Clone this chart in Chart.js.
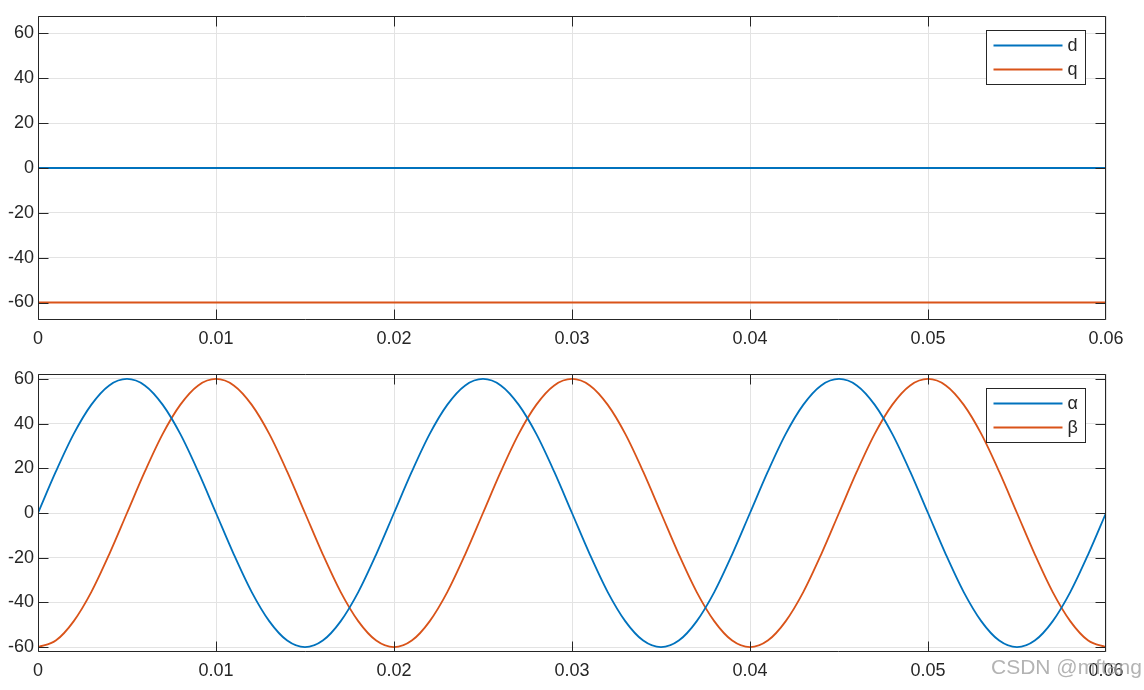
<!DOCTYPE html>
<html>
<head>
<meta charset="utf-8">
<script src="https://cdn.jsdelivr.net/npm/chart.js@4.4.1/dist/chart.umd.min.js"></script>
<style>
  html, body { margin: 0; padding: 0; background: #ffffff; }
  body { width: 1144px; height: 690px; position: relative; overflow: hidden; }
  canvas { position: absolute; left: 0; }
  #c1 { top: 0; }
  #c2 { top: 345px; }
  #wm { position: absolute; left: 991px; top: 655px; font-family: "Liberation Sans", Arial, sans-serif;
        font-size: 21px; color: rgba(160,160,160,0.8); white-space: nowrap; }
</style>
</head>
<body>
<canvas id="c1" width="1144" height="345"></canvas>
<canvas id="c2" width="1144" height="345"></canvas>
<div id="wm">CSDN @mftang</div>
<script>
// ---- data ----
const xTickValues = [0, 0.01, 0.02, 0.03, 0.04, 0.05, 0.06];
const xTickLabels = ["0", "0.01", "0.02", "0.03", "0.04", "0.05", "0.06"];
const yTickValues = [-60, -40, -20, 0, 20, 40, 60];
const yTickLabels = ["-60", "-40", "-20", "0", "20", "40", "60"];

// top subplot: d / q
const tTop = [0, 0.01, 0.02, 0.03, 0.04, 0.05, 0.06];
const dValues = [0, 0, 0, 0, 0, 0, 0];
const qValues = [-60, -60, -60, -60, -60, -60, -60];

// bottom subplot: alpha / beta sampled every 0.001 s
const tBottom = [
  0, 0.001, 0.002, 0.003, 0.004, 0.005, 0.006, 0.007, 0.008, 0.009,
  0.010, 0.011, 0.012, 0.013, 0.014, 0.015, 0.016, 0.017, 0.018, 0.019,
  0.020, 0.021, 0.022, 0.023, 0.024, 0.025, 0.026, 0.027, 0.028, 0.029,
  0.030, 0.031, 0.032, 0.033, 0.034, 0.035, 0.036, 0.037, 0.038, 0.039,
  0.040, 0.041, 0.042, 0.043, 0.044, 0.045, 0.046, 0.047, 0.048, 0.049,
  0.050, 0.051, 0.052, 0.053, 0.054, 0.055, 0.056, 0.057, 0.058, 0.059,
  0.060
];
const alphaValues = [
  0, 18.5, 35.3, 48.5, 57.1, 60, 57.1, 48.5, 35.3, 18.5,
  0, -18.5, -35.3, -48.5, -57.1, -60, -57.1, -48.5, -35.3, -18.5,
  0, 18.5, 35.3, 48.5, 57.1, 60, 57.1, 48.5, 35.3, 18.5,
  0, -18.5, -35.3, -48.5, -57.1, -60, -57.1, -48.5, -35.3, -18.5,
  0, 18.5, 35.3, 48.5, 57.1, 60, 57.1, 48.5, 35.3, 18.5,
  0, -18.5, -35.3, -48.5, -57.1, -60, -57.1, -48.5, -35.3, -18.5,
  0
];
const betaValues = [
  -60, -57.1, -48.5, -35.3, -18.5, 0, 18.5, 35.3, 48.5, 57.1,
  60, 57.1, 48.5, 35.3, 18.5, 0, -18.5, -35.3, -48.5, -57.1,
  -60, -57.1, -48.5, -35.3, -18.5, 0, 18.5, 35.3, 48.5, 57.1,
  60, 57.1, 48.5, 35.3, 18.5, 0, -18.5, -35.3, -48.5, -57.1,
  -60, -57.1, -48.5, -35.3, -18.5, 0, 18.5, 35.3, 48.5, 57.1,
  60, 57.1, 48.5, 35.3, 18.5, 0, -18.5, -35.3, -48.5, -57.1,
  -60
];

const BLUE = "#0072BD";
const ORANGE = "#D95319";
const FONT = "'Liberation Sans', Arial, Helvetica, sans-serif";
const AXIS_COLOR = "#262626";
const FONT_SIZE = 18;

function pts(xs, ys) { return xs.map((x, i) => ({ x: x, y: ys[i] })); }

// frame + inward ticks (MATLAB style box)
const framePlugin = {
  id: "frame",
  afterDatasetsDraw(chart) {
    const { ctx, chartArea: a, scales } = chart;
    const L = Math.round(a.left) + 0.5, R = Math.round(a.right) - 0.5;
    const T = Math.round(a.top) + 0.5, B = Math.round(a.bottom) - 0.5;
    const tl = 10;
    const clamp = (v, lo, hi) => Math.min(hi, Math.max(lo, v));
    ctx.save();
    ctx.strokeStyle = AXIS_COLOR;
    ctx.lineWidth = 1;
    ctx.beginPath();
    ctx.rect(L, T, R - L, B - T);
    ctx.stroke();
    ctx.beginPath();
    xTickValues.forEach(v => {
      const px = clamp(Math.round(scales.x.getPixelForValue(v)) + 0.5, L, R);
      ctx.moveTo(px, B); ctx.lineTo(px, B - tl);
      ctx.moveTo(px, T); ctx.lineTo(px, T + tl);
    });
    yTickValues.forEach(v => {
      const py = clamp(Math.round(scales.y.getPixelForValue(v)) + 0.5, T, B);
      ctx.moveTo(L, py); ctx.lineTo(L + tl, py);
      ctx.moveTo(R, py); ctx.lineTo(R - tl, py);
    });
    ctx.stroke();
    ctx.restore();
  }
};

// legend box inside top-right corner
const legendPlugin = {
  id: "boxLegend",
  afterDraw(chart) {
    const { ctx, chartArea: a } = chart;
    const w = 99, h = 54;
    const x0 = Math.round(a.right) - 21 - w + 0.5;
    const y0 = Math.round(a.top) + 14 + 0.5;
    ctx.save();
    ctx.fillStyle = "#ffffff";
    ctx.fillRect(x0, y0, w, h);
    ctx.strokeStyle = AXIS_COLOR;
    ctx.lineWidth = 1;
    ctx.strokeRect(x0, y0, w, h);
    ctx.font = FONT_SIZE + "px " + FONT;
    ctx.textBaseline = "middle";
    ctx.textAlign = "left";
    chart.data.datasets.forEach((ds, i) => {
      const y = y0 + 15 + i * 24;
      ctx.strokeStyle = ds.borderColor;
      ctx.lineWidth = 1.8;
      ctx.beginPath();
      ctx.moveTo(x0 + 7, y); ctx.lineTo(x0 + 76, y);
      ctx.stroke();
      ctx.fillStyle = AXIS_COLOR;
      ctx.fillText(ds.label, x0 + 81, y + 1);
    });
    ctx.restore();
  }
};

function makeChart(id, datasets, yMin, yMax, padTop, xAxisHeight) {
  return new Chart(document.getElementById(id), {
    type: "line",
    data: { datasets: datasets },
    options: {
      responsive: false,
      animation: false,
      layout: { padding: { top: padTop, left: 0, right: 38, bottom: 0 } },
      plugins: { legend: { display: false }, tooltip: { enabled: false } },
      elements: { point: { radius: 0 }, line: { borderWidth: 1.8 } },
      scales: {
        x: {
          type: "linear", min: 0, max: 0.06,
          afterBuildTicks: s => { s.ticks = xTickValues.map(v => ({ value: v })); },
          afterFit: s => { s.height = xAxisHeight; },
          grid: { color: "#e3e3e3", lineWidth: 1, drawTicks: false },
          border: { display: false },
          ticks: {
            padding: 8, color: AXIS_COLOR, maxRotation: 0, autoSkip: false,
            font: { family: FONT, size: FONT_SIZE },
            callback: (v, i) => xTickLabels[i]
          }
        },
        y: {
          type: "linear", min: yMin, max: yMax,
          afterBuildTicks: s => { s.ticks = yTickValues.map(v => ({ value: v })); },
          afterFit: s => { s.width = 38; },
          grid: { color: "#e3e3e3", lineWidth: 1, drawTicks: false },
          border: { display: false },
          ticks: {
            padding: 4, color: AXIS_COLOR, autoSkip: false,
            font: { family: FONT, size: FONT_SIZE },
            callback: (v, i) => yTickLabels[i]
          }
        }
      }
    },
    plugins: [framePlugin, legendPlugin]
  });
}

makeChart("c1", [
  { label: "d", data: pts(tTop, dValues), borderColor: BLUE, backgroundColor: BLUE, fill: false },
  { label: "q", data: pts(tTop, qValues), borderColor: ORANGE, backgroundColor: ORANGE, fill: false }
], -67.8, 67.8, 16, 25);

makeChart("c2", [
  { label: "\u03B1", data: pts(tBottom, alphaValues), borderColor: BLUE, backgroundColor: BLUE, fill: false, cubicInterpolationMode: "monotone" },
  { label: "\u03B2", data: pts(tBottom, betaValues), borderColor: ORANGE, backgroundColor: ORANGE, fill: false, cubicInterpolationMode: "monotone" }
], -62.2, 62.2, 29, 38);
</script>
</body>
</html>
